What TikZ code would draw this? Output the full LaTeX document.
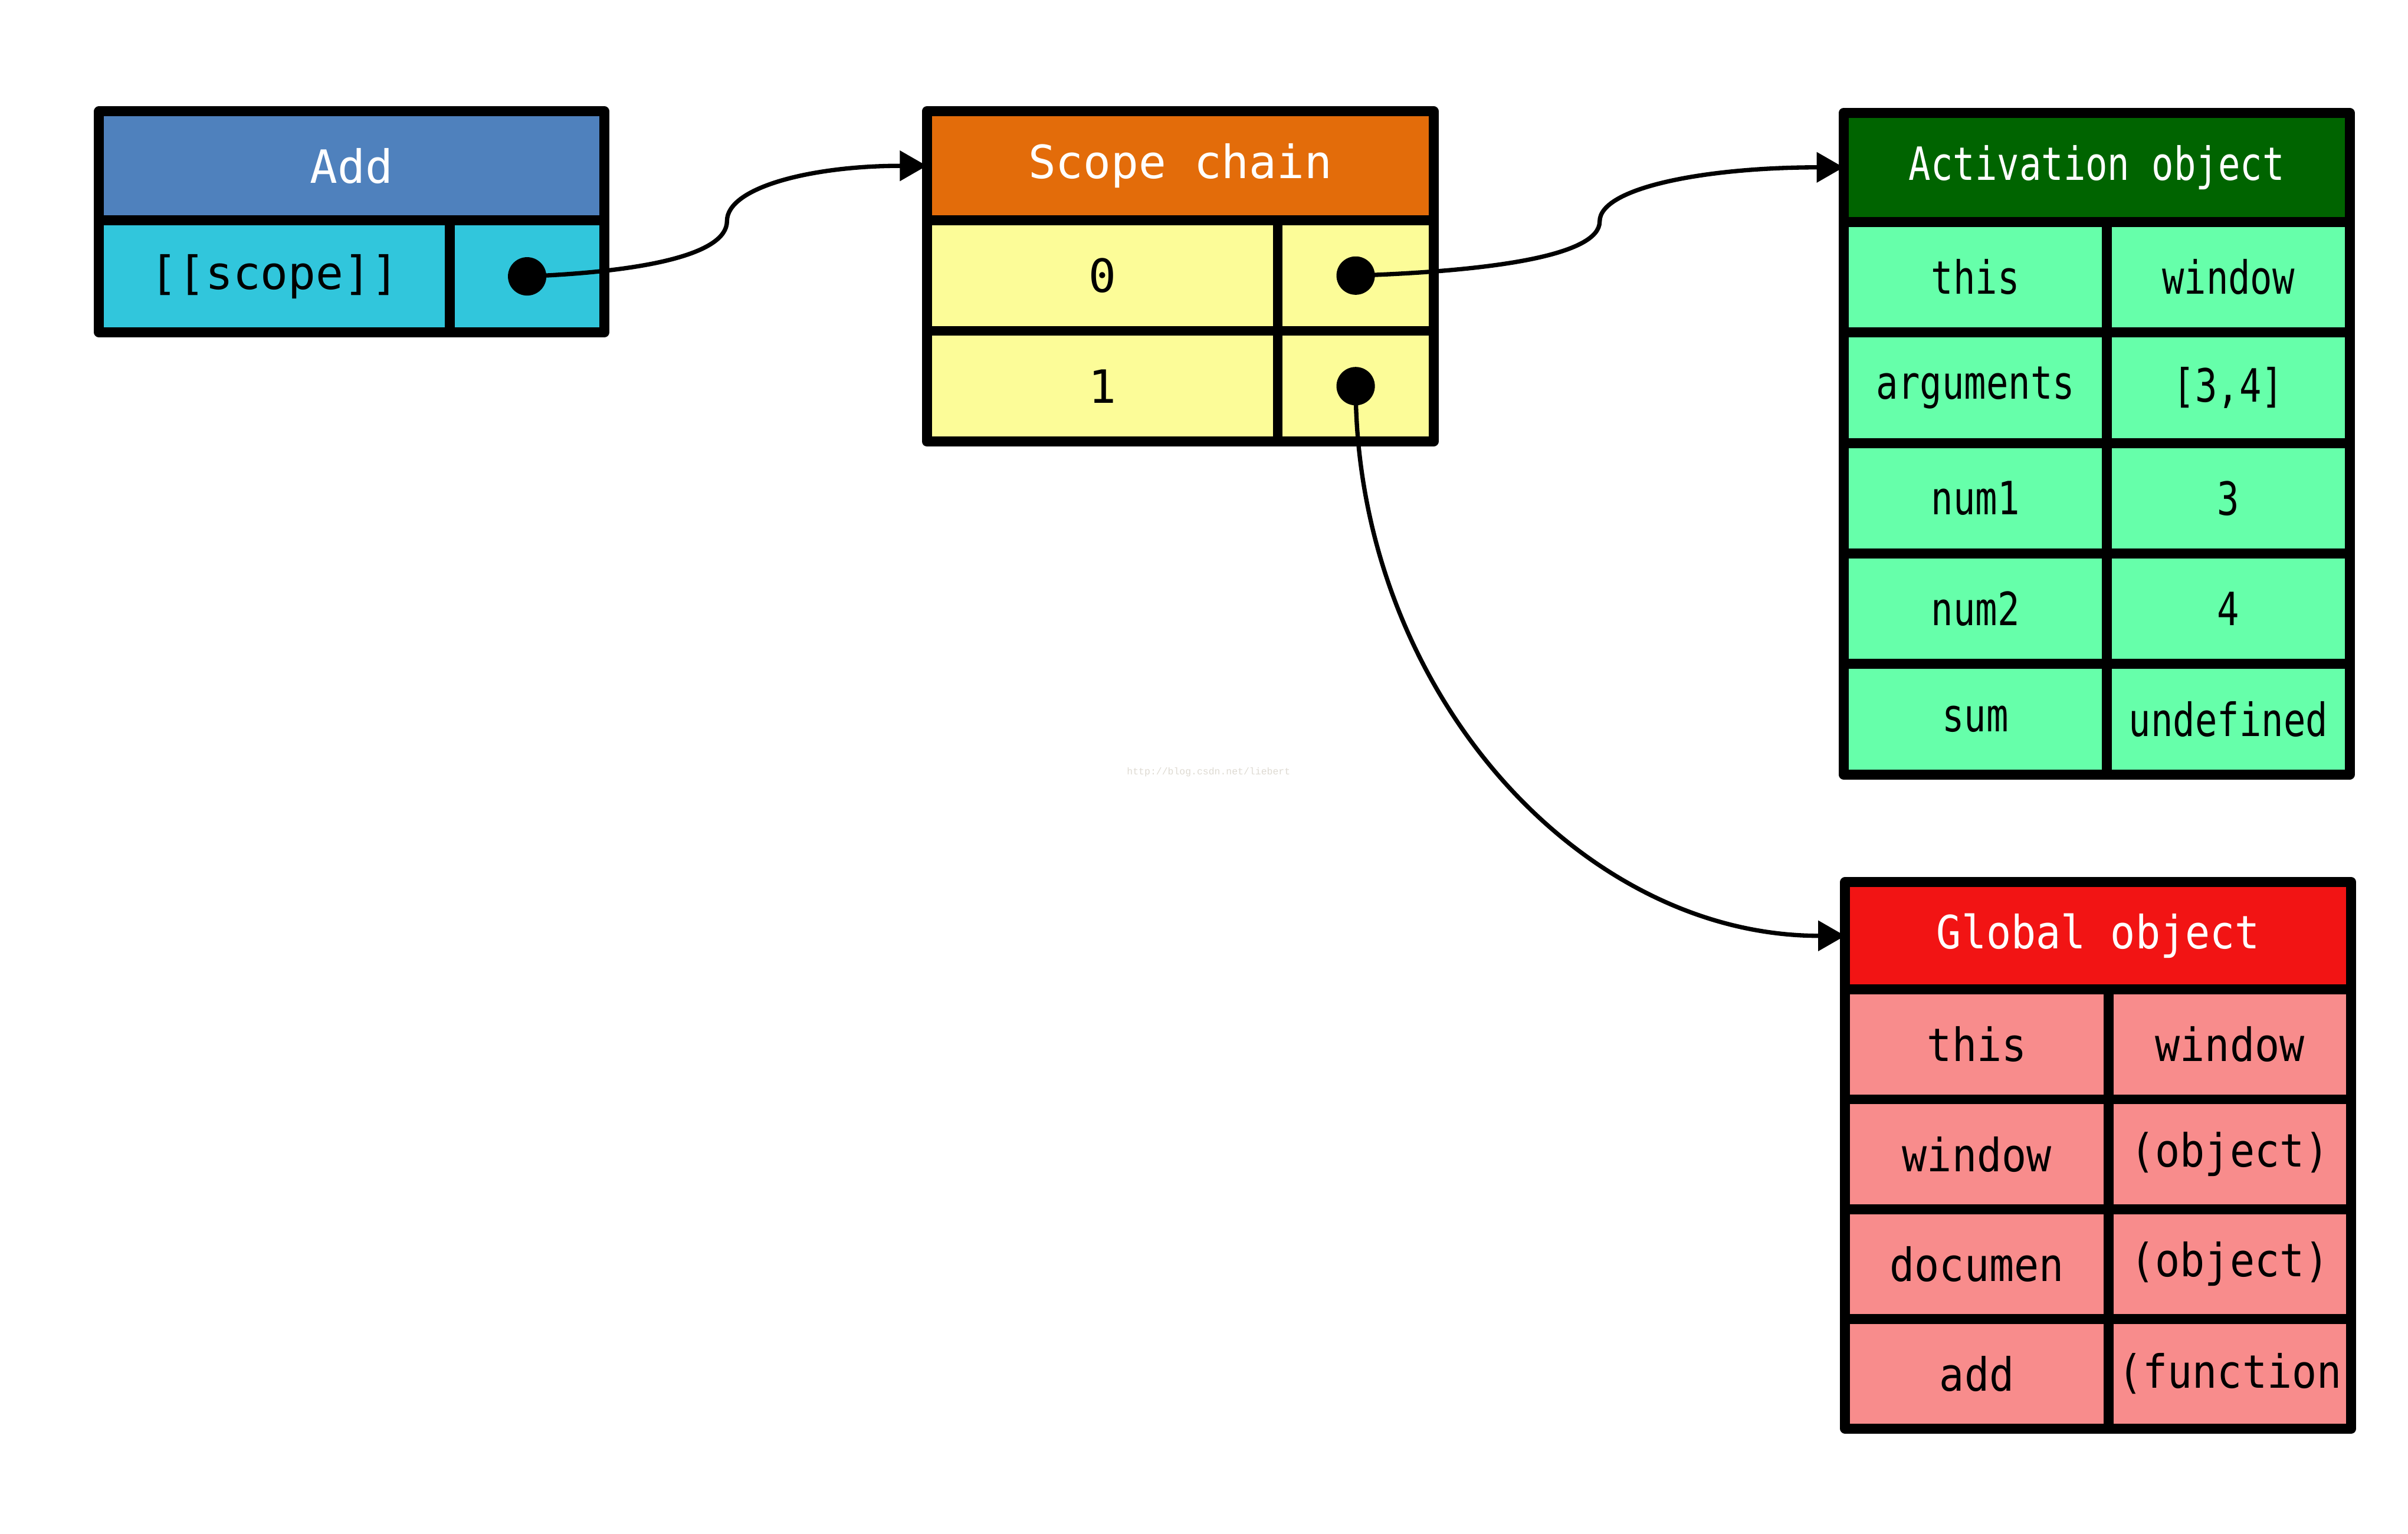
\documentclass[tikz,border=0pt]{standalone}
\usepackage{fontspec}
\setmonofont{DejaVu Sans Mono}
\newfontfamily\actfont{DejaVu Sans Mono}[FakeStretch=0.8]
\newfontfamily\globfont{DejaVu Sans Mono}[FakeStretch=0.9]
\newfontfamily\markfont{Liberation Mono}
\usetikzlibrary{positioning,arrows.meta,calc}

\definecolor{addhead}{RGB}{79,129,189}
\definecolor{addrow}{RGB}{49,198,220}
\definecolor{scphead}{RGB}{227,108,10}
\definecolor{scprow}{RGB}{252,252,152}
\definecolor{acthead}{RGB}{0,100,0}
\definecolor{actrow}{RGB}{102,255,170}
\definecolor{globhead}{RGB}{242,20,20}
\definecolor{globrow}{RGB}{248,140,140}
\definecolor{wmgray}{RGB}{222,218,210}

\begin{document}
\begin{tikzpicture}[
		tblcell/.style={draw, line width=1.85pt, line join=round, inner sep=0pt, outer sep=0pt, anchor=north west, minimum height=0.72cm},
		acttxt/.style={font=\actfont\fontsize{8.5}{10}\selectfont},
		globtxt/.style={font=\globfont\fontsize{8.5}{10}\selectfont},
		refdot/.style={circle, fill, inner sep=0pt, minimum size=0.25cm},
		link/.style={line width=0.8pt, -{Triangle[length=5pt,width=5.5pt]}},
		font=\ttfamily\fontsize{8.5}{10}\selectfont]

	\useasboundingbox (0,0) rectangle (15.68,-9.99);

	\node[tblcell, fill=addhead, text=white, minimum width=3.29cm, minimum height=0.71cm] (add) at (0.645,-0.725) {Add};
	\node[tblcell, fill=addrow, minimum width=2.285cm, minimum height=0.73cm, below right=0pt of add.south west] (addscp) {[[scope]]};
	\node[tblcell, fill=addrow, minimum width=1.005cm, minimum height=0.73cm, right=0pt of addscp] (addscpv) {};
	\node[refdot] (addp) at (addscpv.center) {};

	\node[tblcell, fill=scphead, text=white, minimum width=3.3cm, minimum height=0.71cm] (scope) at (6.035,-0.725) {Scope chain};
	\node[tblcell, fill=scprow, minimum width=2.285cm, below right=0pt of scope.south west] (s0) {0};
	\node[tblcell, fill=scprow, minimum width=1.015cm, right=0pt of s0] (s0v) {};
	\node[tblcell, fill=scprow, minimum width=2.285cm, below right=0pt of s0.south west] (s1) {1};
	\node[tblcell, fill=scprow, minimum width=1.015cm, right=0pt of s1] (s1v) {};
	\node[refdot] (s0p) at (s0v.center) {};
	\node[refdot] (s1p) at (s1v.center) {};

	\node[tblcell, acttxt, fill=acthead, text=white, minimum width=3.295cm, minimum height=0.71cm] (act) at (12.005,-0.735) {Activation object};
	\node[tblcell, acttxt, fill=actrow, minimum width=1.715cm, below right=0pt of act.south west] (athis) {this};
	\node[tblcell, acttxt, fill=actrow, minimum width=1.58cm, right=0pt of athis] (athisv) {window};
	\node[tblcell, acttxt, fill=actrow, minimum width=1.715cm, below right=0pt of athis.south west] (aargs) {arguments};
	\node[tblcell, acttxt, fill=actrow, minimum width=1.58cm, right=0pt of aargs] (aargsv) {[3,4]};
	\node[tblcell, acttxt, fill=actrow, minimum width=1.715cm, below right=0pt of aargs.south west] (anum1) {num1};
	\node[tblcell, acttxt, fill=actrow, minimum width=1.58cm, right=0pt of anum1] (anum1v) {3};
	\node[tblcell, acttxt, fill=actrow, minimum width=1.715cm, below right=0pt of anum1.south west] (anum2) {num2};
	\node[tblcell, acttxt, fill=actrow, minimum width=1.58cm, right=0pt of anum2] (anum2v) {4};
	\node[tblcell, acttxt, fill=actrow, minimum width=1.715cm, below right=0pt of anum2.south west] (asum) {sum};
	\node[tblcell, acttxt, fill=actrow, minimum width=1.58cm, right=0pt of asum] (asumv) {undefined};

	\node[tblcell, globtxt, fill=globhead, text=white, minimum width=3.295cm, minimum height=0.70cm] (glob) at (12.015,-5.745) {Global object};
	\node[tblcell, globtxt, fill=globrow, minimum width=1.715cm, minimum height=0.715cm, below right=0pt of glob.south west] (gthis) {this};
	\node[tblcell, globtxt, fill=globrow, minimum width=1.58cm, minimum height=0.715cm, right=0pt of gthis] (gthisv) {window};
	\node[tblcell, globtxt, fill=globrow, minimum width=1.715cm, minimum height=0.715cm, below right=0pt of gthis.south west] (gwin) {window};
	\node[tblcell, globtxt, fill=globrow, minimum width=1.58cm, minimum height=0.715cm, right=0pt of gwin] (gwinv) {(object)};
	\node[tblcell, globtxt, fill=globrow, minimum width=1.715cm, minimum height=0.715cm, below right=0pt of gwin.south west] (gdoc) {documen};
	\node[tblcell, globtxt, fill=globrow, minimum width=1.58cm, minimum height=0.715cm, right=0pt of gdoc] (gdocv) {(object)};
	\node[tblcell, globtxt, fill=globrow, minimum width=1.715cm, minimum height=0.715cm, below right=0pt of gdoc.south west] (gadd) {add};
	\node[tblcell, globtxt, fill=globrow, minimum width=1.58cm, minimum height=0.715cm, right=0pt of gadd] (gaddv) {(function};

	\coordinate (m1) at ($(addp.center)!0.5!(scope.west)$);
	\coordinate (m2) at ($(s0p.center)!0.5!(act.west)$);
	\draw[link] (addp.center) .. controls +(0.75,0.03) and +(0,-0.22) .. (m1) .. controls +(0,0.22) and +(-0.75,0) .. (scope.west);
	\draw[link] (s0p.center) .. controls +(0.9,0.03) and +(0,-0.22) .. (m2) .. controls +(0,0.22) and +(-0.9,0) .. (act.west);
	\draw[link] (s1p.center) .. controls +(0,-1.96) and +(-1.74,0) .. (glob.west);

	\node[text=wmgray, font=\markfont\fontsize{1.8}{2}\selectfont] (wm) at (7.87,-5.03) {http://blog.csdn.net/liebert};

\end{tikzpicture}
\end{document}
